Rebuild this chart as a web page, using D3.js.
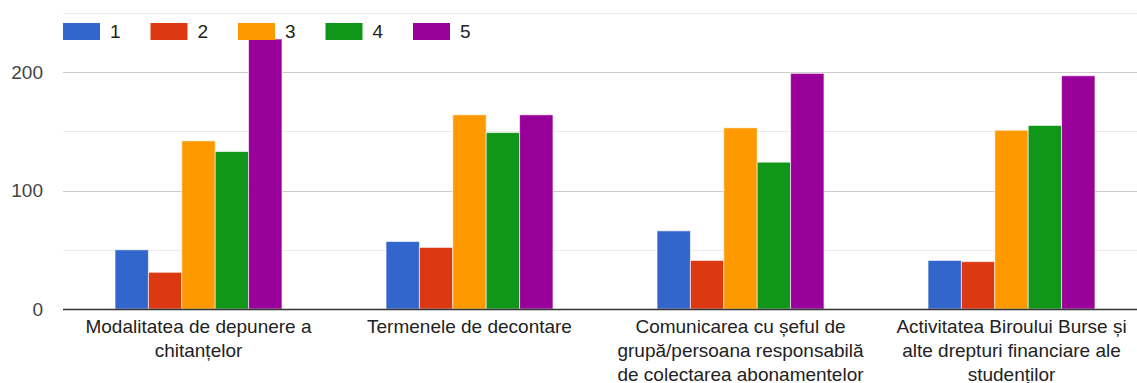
<!DOCTYPE html>
<html>
<head>
<meta charset="utf-8">
<script src="https://cdn.jsdelivr.net/npm/d3@7"></script>
<style>
  body { margin: 0; background: #fff; }
  text { font-family: "Liberation Sans", Arial, sans-serif; }
</style>
</head>
<body>
<div id="chart"></div>
<script>
// categories, wrapped the way they appear under the axis
const categories = [
    ["Modalitatea de depunere a", "chitanțelor"],
    ["Termenele de decontare"],
    ["Comunicarea cu șeful de", "grupă/persoana responsabilă", "de colectarea abonamentelor"],
    ["Activitatea Biroului Burse și", "alte drepturi financiare ale", "studenților"]
];
const seriesNames = ["1", "2", "3", "4", "5"];
const series1 = [50, 57, 66, 41];
const series2 = [31, 52, 41, 40];
const series3 = [142, 164, 153, 151];
const series4 = [133, 149, 124, 155];
const series5 = [228, 164, 199, 197];
const colors = ["#3366cc", "#dc3912", "#ff9900", "#109618", "#990099"];
const yTicks = [0, 100, 200];
const yGrid = [50, 150, 250];

const allSeries = [series1, series2, series3, series4, series5];

const width = 1137, height = 383;
const margin = {top: 13, right: -10, bottom: 74, left: 63};

const svg = d3.select("#chart").append("svg")
    .attr("width", width)
    .attr("height", height);

const x0 = d3.scaleBand()
    .domain(d3.range(categories.length))
    .range([margin.left, width - margin.right])
    .paddingInner(0.384)
    .paddingOuter(0.192);

const x1 = d3.scaleBand()
    .domain(seriesNames)
    .range([0, x0.bandwidth()]);

const y = d3.scaleLinear()
    .domain([0, 250])
    .range([height - margin.bottom, margin.top]);

// minor gridlines
svg.append("g")
    .selectAll("line")
    .data(yGrid)
    .join("line")
    .attr("x1", margin.left).attr("x2", width)
    .attr("y1", d => Math.round(y(d)) + 0.5).attr("y2", d => Math.round(y(d)) + 0.5)
    .attr("stroke", "#ebebeb");

// major gridlines
svg.append("g")
    .selectAll("line")
    .data(yTicks.slice(1))
    .join("line")
    .attr("x1", margin.left).attr("x2", width)
    .attr("y1", d => Math.round(y(d)) + 0.5).attr("y2", d => Math.round(y(d)) + 0.5)
    .attr("stroke", "#cccccc");

// y labels
svg.append("g")
    .selectAll("text")
    .data(yTicks)
    .join("text")
    .attr("x", 43)
    .attr("y", d => y(d))
    .attr("dy", "0.35em")
    .attr("text-anchor", "end")
    .attr("font-size", 19)
    .attr("fill", "#444")
    .text(d => d);

// bars
const groups = svg.append("g")
    .selectAll("g")
    .data(categories)
    .join("g")
    .attr("transform", (d, i) => `translate(${x0(i)},0)`);

groups.selectAll("rect")
    .data((d, i) => allSeries.map((s, k) => ({key: seriesNames[k], value: s[i], color: colors[k]})))
    .join("rect")
    .attr("x", d => x1(d.key))
    .attr("y", d => y(d.value))
    .attr("width", x1.bandwidth())
    .attr("height", d => y(0) - y(d.value))
    .attr("fill", d => d.color)
    .attr("stroke", "#fff")
    .attr("stroke-opacity", 0.6)
    .attr("stroke-width", 1);

// baseline
svg.append("line")
    .attr("x1", margin.left).attr("x2", width)
    .attr("y1", y(0) + 0.5).attr("y2", y(0) + 0.5)
    .attr("stroke", "#333")
    .attr("stroke-width", 1.5);

// category labels
svg.append("g")
    .selectAll("text")
    .data(categories)
    .join("text")
    .attr("x", (d, i) => x0(i) + x0.bandwidth() / 2)
    .attr("y", 333)
    .attr("text-anchor", "middle")
    .attr("font-size", 19)
    .attr("fill", "#222")
    .selectAll("tspan")
    .data(d => d)
    .join("tspan")
    .attr("x", function() { return this.parentNode.getAttribute("x"); })
    .attr("dy", (d, i) => i === 0 ? 0 : 24)
    .text(d => d);

// legend
const legend = svg.append("g")
    .selectAll("g")
    .data(seriesNames)
    .join("g")
    .attr("transform", (d, i) => `translate(${63 + i * 87.5},23)`);

legend.append("rect")
    .attr("width", 37)
    .attr("height", 17)
    .attr("fill", (d, i) => colors[i]);

legend.append("text")
    .attr("x", 47)
    .attr("y", 8.5)
    .attr("dy", "0.35em")
    .attr("font-size", 19)
    .attr("fill", "#222")
    .text(d => d);
</script>
</body>
</html>
